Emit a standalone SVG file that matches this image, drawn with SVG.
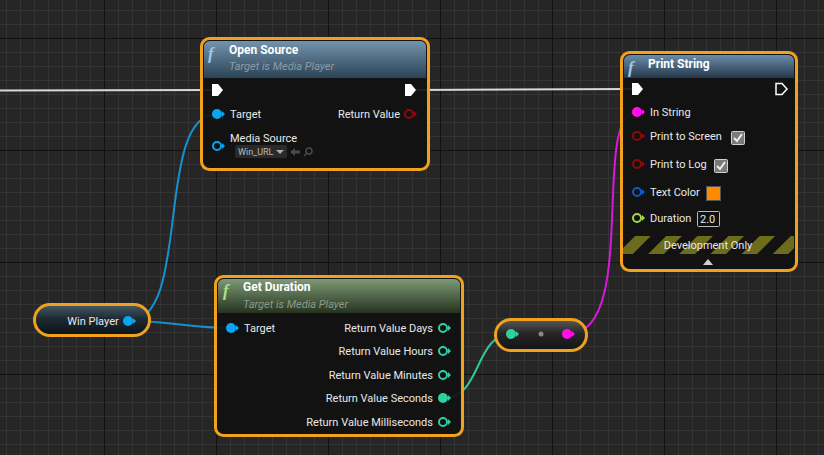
<svg xmlns="http://www.w3.org/2000/svg" width="824" height="455" viewBox="0 0 824 455">
<defs>
<style>
text{font-family:Roboto,"Liberation Sans",sans-serif;fill:#e8e8e8;font-size:11px}
.title{font-weight:bold;font-size:12px;fill:#fff}
.sub{font-style:italic;font-size:11px;fill:#8c9aa6}
.fn{font-family:"Liberation Serif",serif;font-style:italic;font-weight:bold;font-size:17px;fill:#9cc8ec}
.r{text-anchor:end}
.body{fill:#111;fill-opacity:0.93;stroke:#f0a21e;stroke-width:3}
.wire{fill:none;stroke-width:2}
.exec{fill:#fff}
</style>
<pattern id="minor" width="14" height="14" patternUnits="userSpaceOnUse" x="6" y="10">
<rect width="14" height="1" fill="#343434"/><rect width="1" height="14" fill="#343434"/>
</pattern>
<pattern id="major" width="112" height="112" patternUnits="userSpaceOnUse" x="104" y="38">
<rect width="112" height="1" fill="#121212"/><rect width="1" height="112" fill="#121212"/>
</pattern>
<pattern id="stripes" width="22" height="22" patternUnits="userSpaceOnUse" patternTransform="rotate(45)">
<rect width="22" height="22" fill="#121212"/><rect width="11" height="22" fill="#6d6c1c"/>
</pattern>
<linearGradient id="hBlue" x1="0" y1="0" x2="0" y2="1">
<stop offset="0" stop-color="#7393ad"/><stop offset="1" stop-color="#2b4356"/>
</linearGradient>
<linearGradient id="hBlue2" x1="0" y1="0" x2="0" y2="1">
<stop offset="0" stop-color="#6a8cab"/><stop offset="1" stop-color="#25384a"/>
</linearGradient>
<linearGradient id="hGreen" x1="0" y1="0" x2="0" y2="1">
<stop offset="0" stop-color="#7d9a76"/><stop offset="1" stop-color="#26331f"/>
</linearGradient>
<linearGradient id="pillBlue" x1="0" y1="0" x2="0" y2="1">
<stop offset="0" stop-color="#4a5c68"/><stop offset="0.45" stop-color="#1c2a34"/><stop offset="1" stop-color="#0b1218"/>
</linearGradient>
<linearGradient id="pillGray" x1="0" y1="0" x2="0" y2="1">
<stop offset="0" stop-color="#5a5a5a"/><stop offset="0.45" stop-color="#262626"/><stop offset="1" stop-color="#141414"/>
</linearGradient>
<g id="execIn"><path d="M-5,-6H1L6,0L1,6H-5Z"/></g>
</defs>

<rect width="824" height="455" fill="#262626"/>
<rect width="824" height="455" fill="url(#minor)"/>
<rect width="824" height="455" fill="url(#major)"/>

<g id="connectors">
<path class="wire" d="M0,90.5 L213,90" stroke="#d8d8d8" stroke-width="2.5"/>
<path class="wire" d="M412,90 L633,89" stroke="#d8d8d8" stroke-width="2.5"/>
<path class="wire" d="M129,321 C192,321 154,114 217,114" stroke="#1590d0"/>
<path class="wire" d="M129,321 C172,321 188,328 231,328" stroke="#1590d0"/>
<path class="wire" d="M444,398 C482,398 474,334 512,334" stroke="#2fc79a"/>
<path class="wire" d="M568,334 C640,334 590,112 637,112" stroke="#d81ad8"/>
</g>

<g id="node-open-source">
<rect class="body" x="201.5" y="38.5" width="227" height="131" rx="8"/>
<path d="M204,48a6,6 0 0 1 6,-7H420a6,6 0 0 1 6,7V78H204Z" fill="url(#hBlue)"/>
<text class="fn" x="208" y="59">f</text>
<text class="title" x="229" y="54">Open Source</text>
<text class="sub" x="229" y="70">Target is Media Player</text>
<use href="#execIn" x="217" y="90" class="exec"/>
<use href="#execIn" x="410" y="90" class="exec"/>
<circle cx="217" cy="114" r="5" fill="#0aa5f0"/><path d="M222,111L225,114L222,117Z" fill="#0aa5f0"/>
<text x="230" y="118">Target</text>
<text class="r" x="400" y="118">Return Value</text>
<circle cx="409" cy="114" r="4" fill="#111" stroke="#8c0a0a" stroke-width="2"/><path d="M414,111L417,114L414,117Z" fill="#8c0a0a"/>
<circle cx="217" cy="146" r="4" fill="#111" stroke="#0aa5f0" stroke-width="2"/><path d="M222,143L225,146L222,149Z" fill="#0aa5f0"/>
<text x="230" y="142">Media Source</text>
<rect x="235" y="145" width="52" height="13" rx="2" fill="#2a2a2a"/>
<text x="238" y="155" style="font-size:9px;fill:#b8b8b8">Win_URL</text>
<path d="M276,150H284L280,154Z" fill="#aaa"/>
<path d="M290,152L295,148V150.5H300V153.5H295V156Z" fill="#4a4a4a"/>
<circle cx="309" cy="151" r="3" fill="none" stroke="#4a4a4a" stroke-width="1.5"/><path d="M307,153L304,156" stroke="#4a4a4a" stroke-width="1.5"/>
</g>

<g id="node-print-string">
<rect class="body" x="621.5" y="52.5" width="175" height="218" rx="8"/>
<path d="M624,62a6,6 0 0 1 6,-7H788a6,6 0 0 1 6,7V78H624Z" fill="url(#hBlue2)"/>
<text class="fn" x="628" y="73">f</text>
<text class="title" x="648" y="68">Print String</text>
<use href="#execIn" x="637" y="89" class="exec"/>
<path d="M776,83.5H782L787,89L782,94.5H776Z" fill="none" stroke="#fff" stroke-width="1.5"/>
<circle cx="637" cy="112" r="5" fill="#ff10e8"/><path d="M642,109L645,112L642,115Z" fill="#ff10e8"/>
<text x="650" y="116">In String</text>
<circle cx="637" cy="136" r="4" fill="#111" stroke="#8c0a0a" stroke-width="2"/><path d="M642,133L645,136L642,139Z" fill="#8c0a0a"/>
<text x="650" y="140">Print to Screen</text>
<rect x="731.5" y="131.5" width="13" height="13" rx="1" fill="#7a7a7a" stroke="#cfcfcf"/>
<path d="M734,138L737,141L742,134" fill="none" stroke="#eee" stroke-width="2"/>
<circle cx="637" cy="164" r="4" fill="#111" stroke="#8c0a0a" stroke-width="2"/><path d="M642,161L645,164L642,167Z" fill="#8c0a0a"/>
<text x="650" y="168">Print to Log</text>
<rect x="714.5" y="159.5" width="13" height="13" rx="1" fill="#7a7a7a" stroke="#cfcfcf"/>
<path d="M717,166L720,169L725,162" fill="none" stroke="#eee" stroke-width="2"/>
<circle cx="637" cy="192" r="4" fill="#111" stroke="#0a5cc8" stroke-width="2"/><path d="M642,189L645,192L642,195Z" fill="#0a5cc8"/>
<text x="650" y="196">Text Color</text>
<rect x="706.5" y="186.5" width="14" height="14" fill="#ff8a00" stroke="#555"/>
<circle cx="637" cy="218" r="4" fill="#111" stroke="#9ed94b" stroke-width="2"/><path d="M642,215L645,218L642,221Z" fill="#9ed94b"/>
<text x="650" y="222">Duration</text>
<rect x="697.5" y="211.5" width="22" height="15" rx="1" fill="#111" stroke="#bbb"/>
<text x="700" y="223">2.0</text>
<rect x="623" y="236" width="171" height="18" fill="url(#stripes)"/>
<text x="708" y="249" text-anchor="middle">Development Only</text>
<path d="M703,265L708,259L713,265Z" fill="#d0d0d0"/>
</g>

<g id="node-get-duration">
<rect class="body" x="215.5" y="276.5" width="247" height="159" rx="8"/>
<path d="M218,286a6,6 0 0 1 6,-7H454a6,6 0 0 1 6,7V313H218Z" fill="url(#hGreen)"/>
<text class="fn" x="223" y="296" style="fill:#aee08a">f</text>
<text class="title" x="243" y="291">Get Duration</text>
<text class="sub" x="243" y="308" style="fill:#8c9a86">Target is Media Player</text>
<circle cx="231" cy="328" r="5" fill="#0aa5f0"/><path d="M236,325L239,328L236,331Z" fill="#0aa5f0"/>
<text x="244" y="332">Target</text>
<text class="r" x="433" y="332">Return Value Days</text>
<circle cx="443" cy="328" r="4" fill="#111" stroke="#2fd0a0" stroke-width="2"/><path d="M448,325L451,328L448,331Z" fill="#2fd0a0"/>
<text class="r" x="433" y="355">Return Value Hours</text>
<circle cx="443" cy="351" r="4" fill="#111" stroke="#2fd0a0" stroke-width="2"/><path d="M448,348L451,351L448,354Z" fill="#2fd0a0"/>
<text class="r" x="433" y="379">Return Value Minutes</text>
<circle cx="443" cy="375" r="4" fill="#111" stroke="#2fd0a0" stroke-width="2"/><path d="M448,372L451,375L448,378Z" fill="#2fd0a0"/>
<text class="r" x="433" y="402">Return Value Seconds</text>
<circle cx="443" cy="398" r="5" fill="#2fd0a0"/><path d="M448,395L451,398L448,401Z" fill="#2fd0a0"/>
<text class="r" x="433" y="426">Return Value Milliseconds</text>
<circle cx="443" cy="422" r="4" fill="#111" stroke="#2fd0a0" stroke-width="2"/><path d="M448,419L451,422L448,425Z" fill="#2fd0a0"/>
</g>

<g id="node-win-player">
<rect x="34.5" y="304.5" width="115" height="31" rx="15.5" fill="url(#pillBlue)" stroke="#f0a21e" stroke-width="3"/>
<text x="93" y="325" text-anchor="middle">Win Player</text>
<circle cx="128" cy="321" r="5" fill="#0aa5f0"/><path d="M133,318L136,321L133,324Z" fill="#0aa5f0"/>
</g>

<g id="node-convert">
<rect x="495.5" y="319.5" width="91" height="31" rx="15.5" fill="url(#pillGray)" stroke="#f0a21e" stroke-width="3"/>
<circle cx="511" cy="334" r="5" fill="#2fd0a0"/><path d="M516,331L519,334L516,337Z" fill="#2fd0a0"/>
<circle cx="541" cy="334" r="2.5" fill="#888"/>
<circle cx="567" cy="334" r="5" fill="#ff10e8"/><path d="M572,331L575,334L572,337Z" fill="#ff10e8"/>
</g>
</svg>
